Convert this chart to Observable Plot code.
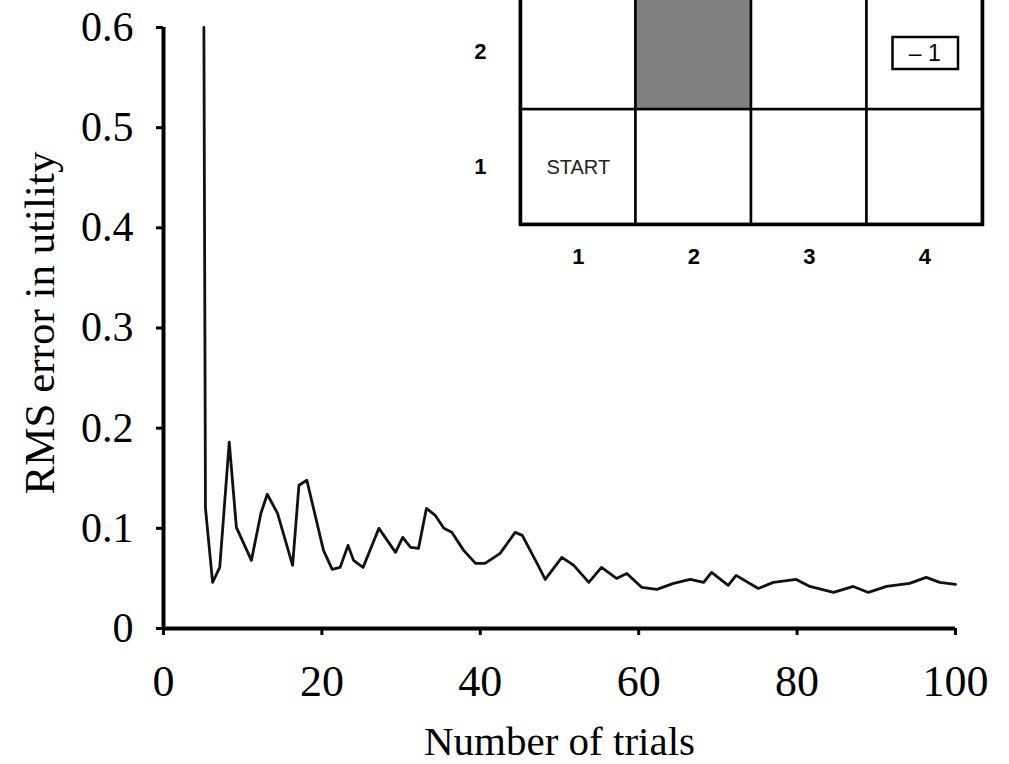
<!DOCTYPE html>
<html>
<head>
<meta charset="utf-8">
<script src="https://cdn.jsdelivr.net/npm/d3@7"></script>
<script src="https://cdn.jsdelivr.net/npm/@observablehq/plot@0.6"></script>
<style>
  html, body { margin: 0; padding: 0; background: #fff; }
  #wrap { position: relative; width: 1009px; height: 764px; overflow: hidden; background: #fff; }
  #main svg, #inset svg { display: block; }
  #inset { position: absolute; left: 440px; top: -10px; }
</style>
</head>
<body>
<div id="wrap">
  <div id="main"></div>
  <div id="inset"></div>
</div>
<script>
// ---- Learning curve data (RMS error in utility vs. number of trials) ----
const trials = [5.1, 5.3, 6.2, 7.1, 8.3, 9.2, 11.1, 12.3, 13.1, 14.4, 16.3, 17.1, 18.1, 20.2, 21.3, 22.3, 23.3, 24.0, 25.2, 27.2, 29.3, 30.2, 31.2, 32.2, 33.2, 34.3, 35.4, 36.4, 37.9, 39.4, 40.6, 42.5, 44.4, 45.3, 47.1, 48.2, 50.3, 51.8, 53.7, 55.3, 57.2, 58.5, 60.4, 62.3, 64.4, 66.5, 68.2, 69.2, 71.3, 72.3, 75.1, 77.0, 79.9, 81.6, 84.6, 87.1, 89.0, 91.3, 94.2, 96.3, 98.0, 100];
const rmsError = [0.60, 0.12, 0.046, 0.061, 0.186, 0.101, 0.068, 0.115, 0.134, 0.115, 0.063, 0.143, 0.148, 0.078, 0.059, 0.061, 0.083, 0.068, 0.061, 0.100, 0.076, 0.091, 0.081, 0.080, 0.120, 0.113, 0.100, 0.096, 0.078, 0.065, 0.065, 0.075, 0.096, 0.093, 0.066, 0.049, 0.071, 0.063, 0.046, 0.061, 0.050, 0.055, 0.041, 0.039, 0.045, 0.049, 0.046, 0.056, 0.043, 0.053, 0.040, 0.046, 0.049, 0.042, 0.036, 0.042, 0.036, 0.042, 0.045, 0.051, 0.046, 0.044];
const xTicks = [0, 20, 40, 60, 80, 100];
const yTicks = [0, 0.1, 0.2, 0.3, 0.4, 0.5, 0.6];
const xLabel = "Number of trials";
const yLabel = "RMS error in utility";

// ---- Inset grid world ----
const gridCols = [1, 2, 3, 4];
const gridRows = [1, 2];
const blockedCells = [{col: 2, row: 2}];
const startCell = [{col: 1, row: 1, label: "START"}];
const terminalCell = [{col: 4, row: 2, label: "– 1"}];

const curve = trials.map((t, i) => ({trial: t, rms: rmsError[i]}));
const cells = gridRows.flatMap(r => gridCols.map(c => ({
  col: c, row: r,
  blocked: blockedCells.some(b => b.col === c && b.row === r)
})));

const serif = "'Liberation Serif', 'Times New Roman', Times, serif";
const sans = "'Liberation Sans', Arial, Helvetica, sans-serif";

const main = Plot.plot({
  width: 1009,
  height: 764,
  marginLeft: 163,
  marginRight: 54,
  marginTop: 27,
  marginBottom: 136,
  style: {fontFamily: serif, color: "#000", background: "transparent", overflow: "visible"},
  x: {domain: [0, 100]},
  y: {domain: [0, 0.6]},
  marks: [
    Plot.axisX({ticks: xTicks, tickSize: 7, tickPadding: 29, fontSize: 44, strokeWidth: 3, label: null, tickFormat: d => String(d)}),
    Plot.axisY({ticks: yTicks, tickSize: 7, tickPadding: 23, fontSize: 42, strokeWidth: 3, label: null, tickFormat: d => d === 0 ? "0" : d.toFixed(1)}),
    Plot.ruleY([0], {stroke: "#000", strokeWidth: 4}),
    Plot.ruleX([0], {y1: 0, y2: 0.6, stroke: "#000", strokeWidth: 4}),
    Plot.line(curve, {x: "trial", y: "rms", stroke: "#111", strokeWidth: 2.8, strokeLinejoin: "round"}),
    Plot.text([xLabel], {text: d => d, frameAnchor: "bottom", textAnchor: "middle", dy: 126, lineAnchor: "bottom", fontSize: 41, fill: "#000"}),
    Plot.text([yLabel], {text: d => d, frameAnchor: "left", textAnchor: "middle", rotate: -90, dx: -110, dy: -5, lineAnchor: "bottom", fontSize: 43, fill: "#000"})
  ]
});
document.getElementById("main").appendChild(main);

const inset = Plot.plot({
  width: 569,
  height: 300,
  marginLeft: 80,
  marginRight: 27,
  marginTop: 4,
  marginBottom: 66,
  style: {fontFamily: sans, color: "#000", background: "transparent", overflow: "visible"},
  x: {domain: [0.5, 4.5]},
  y: {domain: [0.5, 2.5]},
  marks: [
    Plot.rect(cells, {
      x1: d => d.col - 0.5, x2: d => d.col + 0.5,
      y1: d => d.row - 0.5, y2: d => d.row + 0.5,
      fill: d => d.blocked ? "#808080" : "#ffffff",
      stroke: "#000", strokeWidth: 2.5
    }),
    Plot.frame({stroke: "#000", strokeWidth: 3.5}),
    Plot.rect(terminalCell, {
      x1: d => d.col - 0.5, x2: d => d.col + 0.5,
      y1: d => d.row - 0.5, y2: d => d.row + 0.5,
      insetLeft: 26, insetRight: 24, insetTop: 43, insetBottom: 40,
      fill: "#fff", stroke: "#000", strokeWidth: 2.5
    }),
    Plot.text(terminalCell, {x: "col", y: "row", text: "label", dy: 1.5, fontSize: 23, fill: "#000"}),
    Plot.text(startCell, {x: "col", y: "row", text: "label", dy: 1, fontSize: 20, fill: "#222"}),
    Plot.axisX({ticks: gridCols, tickSize: 0, tickPadding: 24, fontSize: 22, fontWeight: "bold", label: null, tickFormat: d => String(d)}),
    Plot.axisY({ticks: gridRows, tickSize: 0, tickPadding: 34, fontSize: 22, fontWeight: "bold", label: null, tickFormat: d => String(d)})
  ]
});
document.getElementById("inset").appendChild(inset);
</script>
</body>
</html>
